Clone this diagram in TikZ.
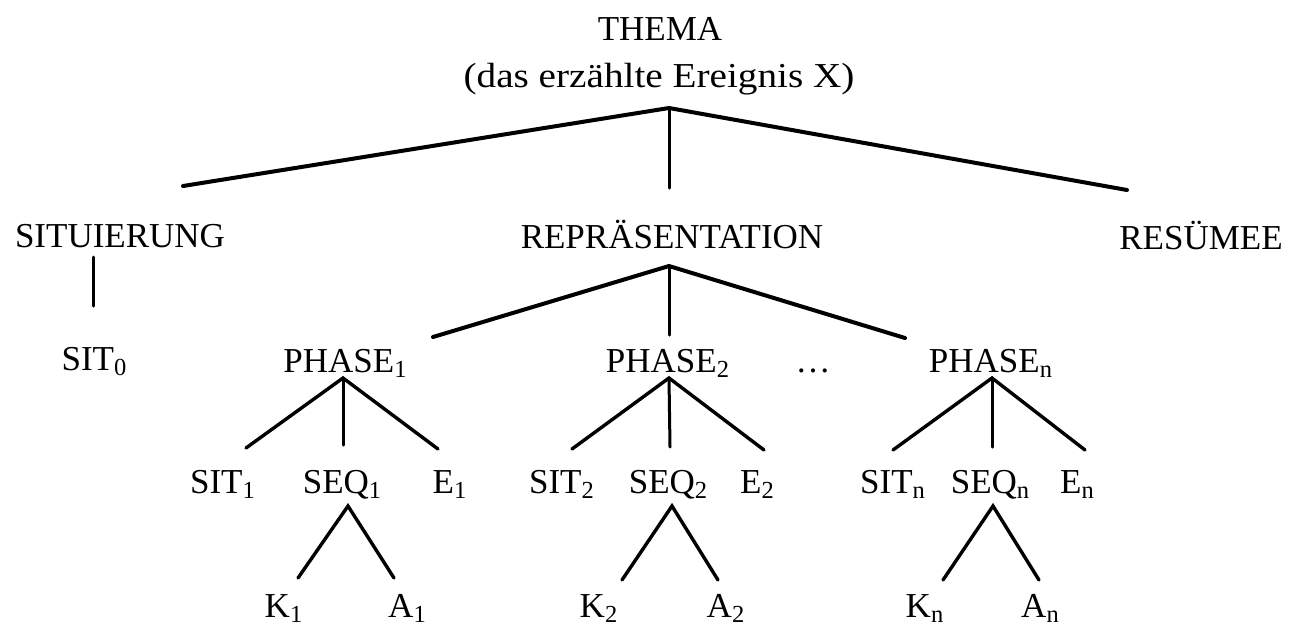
\documentclass[tikz,border=0pt]{standalone}
\usepackage{fontspec}
\usepackage{graphicx}
\setmainfont{Liberation Serif}
\begin{document}
\begin{tikzpicture}[x=0.5pt,y=-0.5pt,
  lbl/.style={anchor=base,inner sep=0pt,font=\fontsize{17.5}{21}\selectfont},
  edge/.style={line width=1.7pt,line cap=round},
  topedge/.style={line width=2pt,line cap=round},
  vedge/.style={line width=1.5pt,line cap=round}]
\useasboundingbox (0,0) rectangle (1290,628);
% texts
\node[lbl] (thema) at (660,40) {THEMA};
\node[lbl] (thema2) at (659,87) {\scalebox{1.12}[1]{(das erzählte Ereignis X)}};
\node[lbl] (situ) at (120,247) {SITUIERUNG};
\node[lbl] (rep) at (672,248) {REPRÄSENTATION};
\node[lbl] (res) at (1201,249) {RESÜMEE};
\node[lbl] (sit0) at (94.5,370) {SIT\textsubscript{0}};
\node[lbl] (ph1) at (345.5,372) {PHASE\textsubscript{1}};
\node[lbl] (ph2) at (668,372) {PHASE\textsubscript{2}};
\node[lbl] (dots) at (813,372) {\dots};
\node[lbl] (phn) at (991,372) {PHASE\textsubscript{n}};
\node[lbl] (sit1) at (223,493) {SIT\textsubscript{1}};
\node[lbl] (seq1) at (342.5,493) {SEQ\textsubscript{1}};
\node[lbl] (e1) at (450,493) {E\textsubscript{1}};
\node[lbl] (sit2) at (562,493) {SIT\textsubscript{2}};
\node[lbl] (seq2) at (668.5,493) {SEQ\textsubscript{2}};
\node[lbl] (e2) at (757.5,493) {E\textsubscript{2}};
\node[lbl] (sitn) at (893,493) {SIT\textsubscript{n}};
\node[lbl] (seqn) at (990.5,493) {SEQ\textsubscript{n}};
\node[lbl] (en) at (1077.5,493) {E\textsubscript{n}};
\node[lbl] (k1) at (284,617) {K\textsubscript{1}};
\node[lbl] (a1) at (407.5,617) {A\textsubscript{1}};
\node[lbl] (k2) at (599,617) {K\textsubscript{2}};
\node[lbl] (a2) at (726,617) {A\textsubscript{2}};
\node[lbl] (kn) at (925,617) {K\textsubscript{n}};
\node[lbl] (an) at (1040.5,617) {A\textsubscript{n}};
% connector points
\coordinate (tA) at (669,108);
\coordinate (tL) at (183,186);
\coordinate (tM) at (669,188);
\coordinate (tR) at (1127,190);
\coordinate (sT) at (93,257);
\coordinate (sB) at (93,306);
\coordinate (rA) at (669,266);
\coordinate (rL) at (433,337);
\coordinate (rM) at (669,335);
\coordinate (rR) at (905,338);
\coordinate (p1A) at (343,378);
\coordinate (p1L) at (246,448);
\coordinate (p1M) at (343,445);
\coordinate (p1R) at (438,449);
\coordinate (p2A) at (669,378);
\coordinate (p2L) at (572,449);
\coordinate (p2M) at (670,447);
\coordinate (p2R) at (764,450);
\coordinate (pnA) at (992,378);
\coordinate (pnL) at (893,450);
\coordinate (pnM) at (992,447);
\coordinate (pnR) at (1085,450);
\coordinate (q1A) at (348,506);
\coordinate (q1L) at (298,578);
\coordinate (q1R) at (394,578);
\coordinate (q2A) at (672,506);
\coordinate (q2L) at (622,580);
\coordinate (q2R) at (718,580);
\coordinate (qnA) at (993,506);
\coordinate (qnL) at (943,580);
\coordinate (qnR) at (1039,580);
% connectors
\draw[topedge] (tL) -- (tA) -- (tR);
\draw[vedge] (tA) -- (tM);
\draw[vedge] (sT) -- (sB);
\draw[topedge] (rL) -- (rA) -- (rR);
\draw[vedge] (rA) -- (rM);
\draw[edge] (p1L) -- (p1A) -- (p1R);
\draw[vedge] (p1A) -- (p1M);
\draw[edge] (p2L) -- (p2A) -- (p2R);
\draw[vedge] (p2A) -- (p2M);
\draw[edge] (pnL) -- (pnA) -- (pnR);
\draw[vedge] (pnA) -- (pnM);
\draw[edge] (q1L) -- (q1A) -- (q1R);
\draw[edge] (q2L) -- (q2A) -- (q2R);
\draw[edge] (qnL) -- (qnA) -- (qnR);
\end{tikzpicture}
\end{document}
